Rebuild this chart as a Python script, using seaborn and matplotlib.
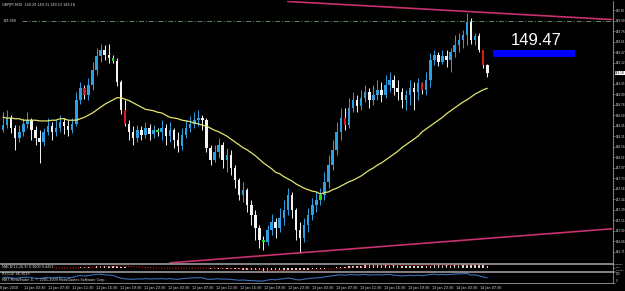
import numpy as np
import pandas as pd
import matplotlib
matplotlib.use("Agg")
import matplotlib.pyplot as plt
import seaborn as sns

# ---------------- data ----------------
chart_title = "GBPJPY,M30  149.29 149.31 149.13 149.18"
first_open = 148.39
closes = [148.46, 148.56, 148.42, 148.28, 148.37, 148.48, 148.53, 148.39, 148.28, 148.23,
          148.37, 148.45, 148.37, 148.42, 148.51, 148.45, 148.39, 148.48, 148.81, 148.97,
          148.88, 149.02, 149.22, 149.42, 149.50, 149.43, 149.39, 149.35, 149.06, 148.67,
          148.48, 148.37, 148.28, 148.39, 148.33, 148.42, 148.34, 148.39, 148.37, 148.42,
          148.31, 148.39, 148.26, 148.17, 148.33, 148.42, 148.48, 148.53, 148.56, 148.53,
          148.15, 147.98, 148.09, 148.19, 147.98, 148.05, 147.87, 147.70, 147.50, 147.57,
          147.36, 147.22, 147.04, 146.88, 146.85, 147.01, 147.12, 147.04, 147.18, 147.29,
          147.50, 147.29, 147.01, 146.90, 147.08, 147.22, 147.36, 147.43, 147.50, 147.68,
          147.91, 148.12, 148.37, 148.56, 148.46, 148.70, 148.81, 148.73, 148.84, 148.92,
          148.81, 148.88, 148.95, 148.88, 149.02, 149.08, 148.97, 148.92, 148.81, 148.88,
          148.97, 148.92, 149.04, 148.95, 149.08, 149.36, 149.43, 149.33, 149.42, 149.36,
          149.47, 149.57, 149.64, 149.71, 149.89, 149.64, 149.69, 149.50, 149.29, 149.18]
highs = [148.64, 148.67, 148.60, 148.46, 148.46, 148.56, 148.64, 148.56, 148.45, 148.39,
         148.42, 148.56, 148.51, 148.53, 148.60, 148.56, 148.53, 148.56, 148.92, 149.06,
         149.02, 149.11, 149.33, 149.53, 149.58, 149.57, 149.58, 149.43, 149.39, 149.08,
         148.81, 148.53, 148.45, 148.46, 148.45, 148.51, 148.48, 148.46, 148.42, 148.53,
         148.48, 148.51, 148.42, 148.37, 148.42, 148.53, 148.59, 148.64, 148.67, 148.60,
         148.56, 148.19, 148.19, 148.28, 148.23, 148.15, 148.12, 147.91, 147.73, 147.68,
         147.59, 147.43, 147.29, 147.08, 146.93, 147.08, 147.24, 147.18, 147.32, 147.43,
         147.59, 147.54, 147.32, 147.12, 147.18, 147.32, 147.46, 147.54, 147.59, 147.81,
         148.05, 148.26, 148.51, 148.70, 148.70, 148.84, 148.92, 148.88, 148.95, 149.02,
         148.97, 149.02, 149.08, 149.06, 149.15, 149.20, 149.15, 149.08, 148.97, 148.95,
         149.08, 149.06, 149.11, 149.06, 149.20, 149.46, 149.50, 149.47, 149.50, 149.50,
         149.53, 149.71, 149.73, 149.78, 150.01, 149.94, 149.73, 149.73, 149.50, 149.31]
lows = [148.37, 148.42, 148.35, 148.12, 148.23, 148.31, 148.42, 148.26, 148.19, 147.94,
        148.17, 148.33, 148.26, 148.31, 148.37, 148.34, 148.31, 148.35, 148.45, 148.75,
        148.82, 148.81, 148.95, 149.15, 149.33, 149.36, 149.32, 149.32, 149.00, 148.62,
        148.45, 148.26, 148.19, 148.23, 148.26, 148.28, 148.26, 148.28, 148.31, 148.26,
        148.19, 148.23, 148.15, 148.09, 148.12, 148.28, 148.37, 148.42, 148.45, 148.39,
        148.09, 147.91, 147.95, 148.01, 147.87, 147.81, 147.77, 147.59, 147.43, 147.40,
        147.26, 147.08, 146.88, 146.77, 146.74, 146.81, 146.94, 146.90, 146.99, 147.08,
        147.22, 147.18, 146.88, 146.71, 146.85, 146.99, 147.15, 147.26, 147.36, 147.43,
        147.59, 147.84, 148.05, 148.26, 148.39, 148.42, 148.64, 148.64, 148.67, 148.78,
        148.70, 148.74, 148.81, 148.78, 148.84, 148.92, 148.88, 148.81, 148.70, 148.67,
        148.74, 148.67, 148.81, 148.89, 148.88, 148.99, 149.29, 149.28, 149.31, 149.26,
        149.20, 149.40, 149.47, 149.53, 149.57, 149.58, 149.57, 149.47, 149.25, 149.13]
ma_values = [148.57, 148.56, 148.56, 148.55, 148.55, 148.53, 148.53, 148.53, 148.53, 148.52,
             148.52, 148.52, 148.53, 148.53, 148.55, 148.55, 148.53, 148.53, 148.53, 148.55,
             148.57, 148.60, 148.63, 148.67, 148.71, 148.75, 148.78, 148.81, 148.84, 148.84,
             148.82, 148.80, 148.77, 148.74, 148.71, 148.68, 148.67, 148.66, 148.64, 148.63,
             148.60, 148.57, 148.56, 148.55, 148.53, 148.52, 148.51, 148.49, 148.48, 148.46,
             148.45, 148.42, 148.39, 148.37, 148.34, 148.31, 148.27, 148.23, 148.19, 148.15,
             148.12, 148.08, 148.04, 147.99, 147.94, 147.90, 147.86, 147.81, 147.79, 147.75,
             147.72, 147.69, 147.65, 147.62, 147.59, 147.57, 147.55, 147.54, 147.51, 147.53,
             147.54, 147.57, 147.59, 147.62, 147.65, 147.68, 147.70, 147.73, 147.76, 147.80,
             147.84, 147.87, 147.91, 147.94, 147.98, 148.02, 148.06, 148.10, 148.15, 148.19,
             148.23, 148.27, 148.31, 148.37, 148.41, 148.45, 148.49, 148.53, 148.57, 148.62,
             148.66, 148.70, 148.74, 148.78, 148.81, 148.85, 148.89, 148.92, 148.95, 148.97]
red_bars = [20, 30, 84, 103, 118]
green_bars = [27, 38, 64, 78]

macd_values = [0.02, 0.03, 0.02, 0.00, -0.01, 0.00, 0.01, 0.00, -0.02, -0.03,
               -0.02, -0.01, -0.02, -0.02, -0.01, -0.01, -0.02, -0.01,
               0.03, 0.08, 0.10, 0.14, 0.19, 0.25, 0.29, 0.31, 0.31, 0.30,
               0.25, 0.17, 0.09, 0.03, -0.02, -0.04,
               -0.06, -0.06, -0.07, -0.07, -0.07, -0.07, -0.08, -0.08, -0.09, -0.10,
               -0.09, -0.08, -0.06, -0.05, -0.04,
               -0.04, -0.07, -0.11, -0.13, -0.13, -0.15, -0.16, -0.18, -0.21, -0.25,
               -0.27, -0.30, -0.33, -0.37, -0.41, -0.43,
               -0.43, -0.42, -0.41, -0.39, -0.36, -0.31, -0.29, -0.30, -0.31,
               -0.30, -0.27, -0.24, -0.21, -0.18, -0.13, -0.07, 0.00, 0.08, 0.15, 0.19, 0.24,
               0.29, 0.31, 0.34, 0.37, 0.37, 0.38, 0.39, 0.38, 0.39, 0.40, 0.39, 0.37,
               0.34, 0.33, 0.33, 0.32, 0.33, 0.31, 0.32,
               0.36, 0.39, 0.40, 0.41, 0.41, 0.42, 0.44, 0.46, 0.48, 0.52, 0.51, 0.50,
               0.47, 0.42, 0.36]
rsi_values = [50, 53, 47, 42, 46, 51, 53, 48, 43, 41, 47, 50, 47, 49, 52, 49, 47, 50,
              62, 68, 63, 68, 74, 78, 80, 75, 72, 70,
              55, 44, 38, 35, 33, 37,
              36, 40, 37, 39, 38, 40, 37, 40, 35, 33, 40, 43, 45, 47, 48,
              47, 36, 32, 36, 39, 34, 36, 32, 29, 25, 27, 24, 22, 20, 18, 18,
              27, 32, 29, 35, 39, 46, 39, 31, 28,
              35, 40, 45, 47, 49, 55, 61, 66, 71, 75, 71, 75,
              77, 73, 76, 78, 72, 74, 76, 73, 77, 78, 72, 69, 64, 67, 70, 67, 71, 66, 71,
              78, 80, 75, 78, 75, 79, 81, 83, 84, 87, 72, 74, 65, 55, 46]

upper_trend_bar = [70, 149.6]
upper_trend_price = [150.17, 149.92]
lower_trend_bar = [41, 149.6]
lower_trend_price = [146.56, 147.03]
hline_level = 149.90
hline_text = "149.900"
target_level = 149.47
target_text = "149.47"
target_band = [149.40, 149.50]
target_span = [120.4, 140.5]
current_price = 149.18

price_ticks = [150.05, 149.90, 149.76, 149.61, 149.47, 149.32, 149.03, 148.89, 148.74,
               148.60, 148.45, 148.31, 148.16, 148.02, 147.87, 147.73, 147.58, 147.44,
               147.29, 147.15, 147.00, 146.86, 146.71]
time_labels = ["8 Jan 2010", "11 Jan 03:30", "11 Jan 07:30", "11 Jan 11:30", "11 Jan 15:30",
               "11 Jan 19:30", "11 Jan 23:30", "12 Jan 03:30", "12 Jan 07:30", "12 Jan 11:30",
               "12 Jan 15:30", "12 Jan 19:30", "12 Jan 23:30", "13 Jan 03:30", "13 Jan 07:30",
               "13 Jan 11:30", "13 Jan 15:30", "13 Jan 19:30", "13 Jan 23:30", "14 Jan 03:30",
               "14 Jan 07:30"]
macd_label = "MACD(12,26,9) 0.3600 0.4453"
macd_axis_labels = ["0.5987", "0.00", "-0.4954"]
rsi_label = "RSI(14) 46.3029"
rsi_axis_labels = ["100", "0"]
copyright_text = "MBT MetaTrader 4, \u00a9 2001-2009 MetaQuotes Software Corp."

# ---------------- style ----------------
sns.set_style("dark", {"axes.facecolor": "black", "figure.facecolor": "black"})
plt.rcParams['font.family'] = ['DejaVu Sans']

BLUE = '#2f9fe4'
WHITE = '#f4f4f4'
RED = '#e01818'
GREEN = '#22dd22'
FRAME = '#9a9a9a'
TXT = '#e0e0e0'
TS = 2.4
AXS = 2.0

W, H = 625, 291
fig = plt.figure(figsize=(W / 100, H / 100), dpi=100)
fig.patch.set_facecolor('black')


def px_axes(x0, y0, x1, y1):
    return fig.add_axes([x0 / W, 1 - y1 / H, (x1 - x0) / W, (y1 - y0) / H])


ax = px_axes(0, 1, 613, 263)
ax_m = px_axes(0, 264, 613, 271)
ax_r = px_axes(0, 272, 613, 283)

n = len(closes)
idx = np.arange(n)
c = np.array(closes)
o = np.array([first_open] + closes[:-1])
hi = np.maximum(np.array(highs), np.maximum(o, c))
lo = np.minimum(np.array(lows), np.minimum(o, c))

body_col = np.where(c >= o, BLUE, WHITE).astype(object)
wick_col = body_col.copy()
for i in red_bars:
    body_col[i] = RED
for i in green_bars:
    body_col[i] = GREEN

XL = (-0.74, 149.9)
for a in (ax, ax_m, ax_r):
    a.set_facecolor('black')
    a.set_xlim(*XL)
    for s in a.spines.values():
        s.set_color(FRAME)
        s.set_linewidth(0.6)
    a.spines['left'].set_visible(False)
    a.grid(False)

ax.spines['top'].set_visible(False)

# candles
ax.vlines(idx, lo, hi, colors=list(wick_col), linewidth=0.7, zorder=3)
bottoms = np.minimum(o, c)
heights = np.maximum(np.abs(c - o), 0.012)
ax.bar(idx, heights, bottom=bottoms, width=0.62, color=list(body_col), linewidth=0, zorder=4)

# moving average
sns.lineplot(x=idx, y=ma_values, ax=ax, color='#e4e46c', linewidth=0.9, zorder=5)

# trend lines
ax.plot(upper_trend_bar, upper_trend_price, color='#c8306e', linewidth=1.2, zorder=2)
ax.plot(lower_trend_bar, lower_trend_price, color='#c8306e', linewidth=1.2, zorder=2)

# horizontal level
ax.plot([4.7, XL[1]], [hline_level, hline_level], color='#5f8a5f', linewidth=0.7,
        linestyle=(0, (5, 2, 1, 2)), zorder=2)
ax.text(0.0, hline_level, hline_text, color=TXT, fontsize=TS, va='center', ha='left')

# target rectangle and label
ax.fill_between(target_span, target_band[0], target_band[1], color='#0000ff', linewidth=0, zorder=6)
ax.annotate(target_text, xy=(sum(target_span) / 2, target_band[1]), xytext=(1.5, 1.5),
            textcoords='offset points', color='white', fontsize=12,
            family='Liberation Sans', ha='center', va='bottom', zorder=7)

ax.set_ylim(146.558, 150.176)
ax.set_xticks([])
ax.yaxis.tick_right()
ax.set_yticks(price_ticks)
ax.set_yticklabels([f"{v:.2f}" for v in price_ticks])
ax.tick_params(axis='y', colors=FRAME, labelcolor=TXT, labelsize=AXS, length=1.5, width=0.5, pad=0.6)
ax.annotate(f"{current_price:.2f}", xy=(1.0, current_price), xycoords=('axes fraction', 'data'),
            xytext=(1.6, 0), textcoords='offset points', fontsize=AXS, color='black',
            va='center', ha='left',
            bbox=dict(boxstyle='square,pad=0.12', fc='white', ec='none'))
ax.text(0.004, 0.992, chart_title, transform=ax.transAxes, color=TXT, fontsize=TS,
        va='top', ha='left')
ax.set_xlabel('')
ax.set_ylabel('')

# MACD window
m = np.array(macd_values)
signal = pd.Series(m).rolling(9, min_periods=1).mean()
ax_m.bar(idx, m, width=0.35, color='#d8d8d8', linewidth=0)
ax_m.plot(idx, signal, color=RED, linewidth=0.8, linestyle=(0, (1, 1.5)))
ax_m.set_ylim(-0.5, 0.6)
ax_m.set_xticks([])
ax_m.yaxis.tick_right()
ax_m.set_yticks([0.6, 0.0, -0.5])
ax_m.set_yticklabels(macd_axis_labels)
ax_m.tick_params(axis='y', colors=FRAME, labelcolor=TXT, labelsize=1.6, length=1.2, width=0.4, pad=0.6)
mlabs = ax_m.get_yticklabels()
mlabs[0].set_va('top')
mlabs[2].set_va('bottom')
ax_m.text(0.004, 0.5, macd_label, transform=ax_m.transAxes, color=TXT, fontsize=TS,
          va='center', ha='left', zorder=5,
          bbox=dict(boxstyle='square,pad=0.05', fc='black', ec='none'))

# RSI window
sns.lineplot(x=idx, y=rsi_values, ax=ax_r, color='#3a6fb8', linewidth=0.8)
ax_r.set_ylim(0, 100)
ax_r.yaxis.tick_right()
ax_r.set_yticks([100, 0])
ax_r.set_yticklabels(rsi_axis_labels)
ax_r.tick_params(axis='y', colors=FRAME, labelcolor=TXT, labelsize=1.8, length=1.2, width=0.4, pad=0.6)
rlabs = ax_r.get_yticklabels()
rlabs[0].set_va('top')
rlabs[1].set_va('bottom')
ax_r.text(0.004, 0.8, rsi_label, transform=ax_r.transAxes, color=TXT, fontsize=TS,
          va='center', ha='left')
ax_r.text(0.004, 0.25, copyright_text, transform=ax_r.transAxes, color=TXT, fontsize=TS,
          va='center', ha='left')
ax_r.set_xlabel('')
ax_r.set_ylabel('')

tick_pos = np.linspace(-0.74, 117.2, len(time_labels))
ax_r.set_xticks(tick_pos)
ax_r.set_xticklabels(time_labels, ha='left')
ax_r.tick_params(axis='x', colors=FRAME, labelcolor=TXT, labelsize=TS, length=1.5, width=0.5, pad=0.8)

fig.savefig("out.png", dpi=100, facecolor='black')
